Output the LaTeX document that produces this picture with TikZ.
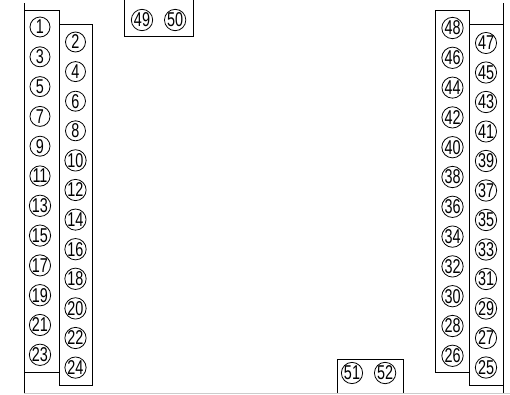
\documentclass[tikz,border=0pt]{standalone}
\usepackage{fontspec}
\newfontfamily\pinfont[FakeStretch=0.72]{Liberation Sans}
\usetikzlibrary{positioning}

\begin{document}
\begin{tikzpicture}[
    x=1pt, y=-1pt,
    pin/.style={draw, circle, minimum size=20pt, inner sep=0pt, line width=0.8pt, font=\pinfont\fontsize{20}{20}\selectfont},
    rail/.style={line width=0.9pt}
]
\useasboundingbox (0,0) rectangle (510,394);

% Leisten links
\draw[rail] (24,3) -- (24,394);
\draw[rail] (24,10) rectangle (59,372);
\draw[rail] (59,24) rectangle (92,385);

% Leisten rechts
\draw[rail] (503,3) -- (503,394);
\draw[rail] (435,10) rectangle (469,372);
\draw[rail] (469,24) rectangle (503,385);

% oben und unten
\draw[rail] (124,0) -- (124,36) -- (193,36) -- (193,0);
\draw[rail] (337,394) -- (337,359) -- (403,359) -- (403,394);
\draw[gray!40, line width=0.8pt] (24,393) -- (510,393);

% Anschluesse
\foreach \i in {0,...,11} {
    \pgfmathtruncatemacro{\odd}{2*\i+1}
    \pgfmathtruncatemacro{\even}{2*\i+2}
    \pgfmathtruncatemacro{\rl}{48-2*\i}
    \pgfmathtruncatemacro{\rr}{47-2*\i}
    \node[pin] (p\odd) at (40, 27+29.8*\i) {\odd};
    \node[pin] (p\even) at (75.5, 42+29.6*\i) {\even};
    \node[pin] (p\rl) at (452.5, 28+29.8*\i) {\rl};
    \node[pin] (p\rr) at (486, 43+29.5*\i) {\rr};
}
\node[pin] (p49) at (142,20) {49};
\node[pin, right=11pt of p49] (p50) {50};
\node[pin] (p51) at (352,373) {51};
\node[pin, right=11pt of p51] (p52) {52};

\end{tikzpicture}
\end{document}
